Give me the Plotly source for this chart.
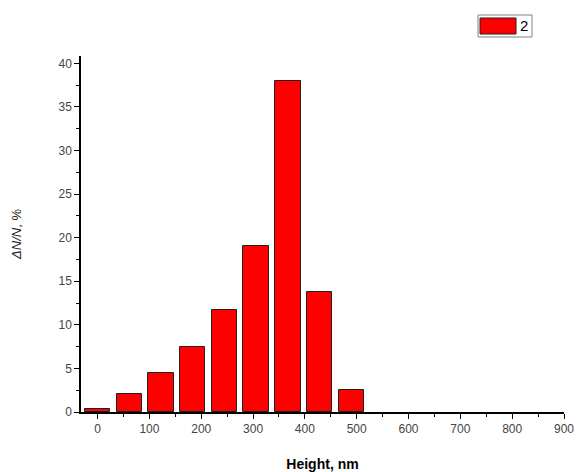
import plotly.graph_objects as go

# Height distribution (bin centres, nm) and share of particles (%)
heights = [0, 61.2, 122.4, 183.6, 244.8, 306.0, 367.2, 428.4, 489.6]
shares = [0.35, 2.1, 4.5, 7.4, 11.7, 19.0, 38.0, 13.8, 2.5]
series_name = "2"

x_ticks = list(range(0, 901, 100))
y_ticks = list(range(0, 41, 5))

W, H = 579, 472
left, right, top, bottom = 81, 15, 56, 60
plot_w = W - left - right
plot_h = H - top - bottom


def px_to_paper(px, py):
    return (px - left) / plot_w, (H - bottom - py) / plot_h


fig = go.Figure()
fig.add_trace(go.Bar(
    x=heights, y=shares, width=49, name=series_name,
    marker=dict(color="#ff0000", line=dict(color="#202020", width=1)),
    showlegend=False,
))

axis_font = dict(family="Liberation Sans, Arial, sans-serif", size=12, color="#444444")

fig.update_layout(
    width=W, height=H,
    margin=dict(l=left, r=right, t=top, b=bottom, autoexpand=False),
    plot_bgcolor="white", paper_bgcolor="white",
    bargap=0,
    xaxis=dict(
        range=[-32, 900], tickvals=x_ticks, ticks="outside", ticklen=5,
        tickcolor="black", tickwidth=1, showline=True, linecolor="black",
        linewidth=1.5, showgrid=False, zeroline=False, tickfont=axis_font,
        automargin=False, ticklabeloverflow="allow",
        minor=dict(dtick=50, tick0=0, ticks="outside", ticklen=3,
                   tickcolor="black", showgrid=False),
        title=dict(text="<b>Height, nm</b>", standoff=24,
                   font=dict(family="Liberation Sans, Arial, sans-serif",
                             size=14, color="black")),
    ),
    yaxis=dict(
        range=[0, 40.84], tickvals=y_ticks, ticks="outside", ticklen=5,
        tickcolor="black", tickwidth=1, showline=True, linecolor="black",
        linewidth=1.5, showgrid=False, zeroline=False, tickfont=axis_font,
        automargin=False,
        minor=dict(dtick=2.5, tick0=0, ticks="outside", ticklen=3,
                   tickcolor="black", showgrid=False),
        title=dict(text="<i>ΔN/N</i>, %", standoff=34,
                   font=dict(family="Liberation Sans, Arial, sans-serif",
                             size=13, color="#222222")),
    ),
)

# Legend box drawn in the top-right corner
bx0, by0 = px_to_paper(478, 37)
bx1, by1 = px_to_paper(532, 15)
sx0, sy0 = px_to_paper(480, 34)
sx1, sy1 = px_to_paper(516, 18)
fig.add_shape(type="rect", xref="paper", yref="paper", x0=bx0, y0=by0, x1=bx1, y1=by1,
              line=dict(color="#808080", width=1), fillcolor="white")
fig.add_shape(type="rect", xref="paper", yref="paper", x0=sx0, y0=sy0, x1=sx1, y1=sy1,
              line=dict(color="#202020", width=1), fillcolor="#ff0000")
tx, ty = px_to_paper(518, 26)
fig.add_annotation(xref="paper", yref="paper", x=tx, y=ty, text=series_name,
                   showarrow=False, xanchor="left", yanchor="middle",
                   font=dict(family="Liberation Sans, Arial, sans-serif", size=15, color="black"))

fig.write_html("out.html")
